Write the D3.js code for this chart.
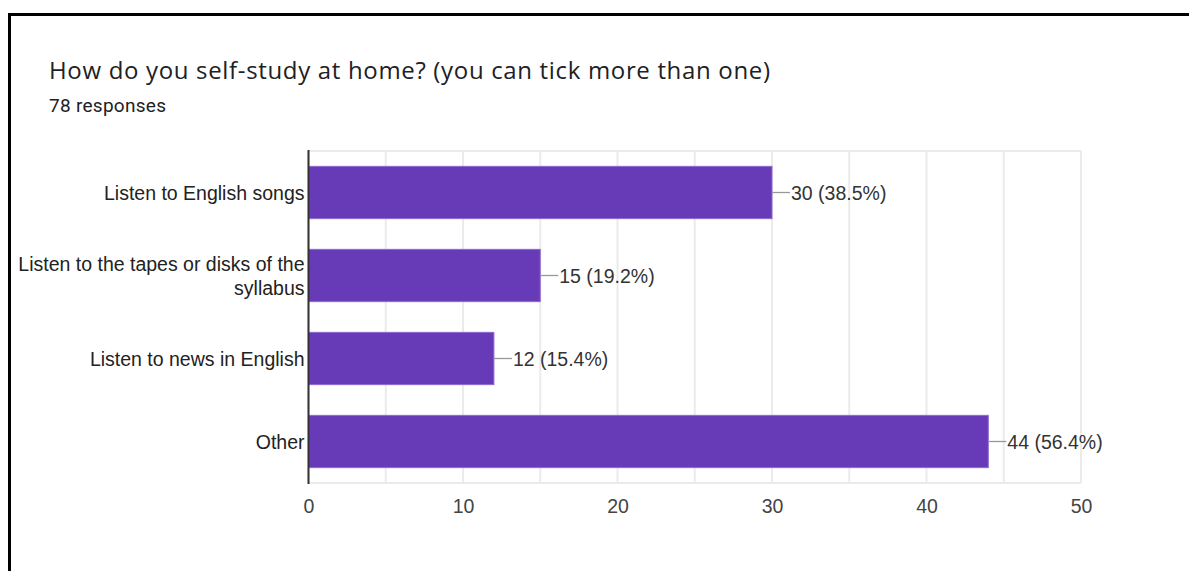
<!DOCTYPE html>
<html>
<head>
<meta charset="utf-8">
<script src="https://cdn.jsdelivr.net/npm/d3@7"></script>
<style>
  html, body { margin: 0; padding: 0; background: #fff; }
  svg { display: block; }
</style>
</head>
<body>
<svg id="chart" width="1189" height="571"></svg>
<script>
// Survey question and answers
const title = "How do you self-study at home? (you can tick more than one)";
const subtitle = "78 responses";
const categories = [
  ["Listen to English songs"],
  ["Listen to the tapes or disks of the", "syllabus"],
  ["Listen to news in English"],
  ["Other"]
];
const counts = [30, 15, 12, 44];
const percents = ["38.5%", "19.2%", "15.4%", "56.4%"];
const tickValues = [0, 10, 20, 30, 40, 50];
const gridValues = [0, 5, 10, 15, 20, 25, 30, 35, 40, 45, 50];

const svg = d3.select("#chart");

// Card frame
svg.append("path")
  .attr("d", "M9.5,571 V14.5 H1189")
  .attr("fill", "none")
  .attr("stroke", "#000")
  .attr("stroke-width", 3);

// Fit a text element to a given width through letter spacing
function fitWidth(sel, width) {
  const node = sel.node();
  const len = node.getComputedTextLength();
  const n = node.textContent.length;
  if (n > 1) sel.attr("letter-spacing", (width - len) / (n - 1));
}

const titleText = svg.append("text")
  .attr("x", 49).attr("y", 79)
  .attr("font-family", "'Open Sans', Roboto, sans-serif")
  .attr("font-size", 24)
  .attr("fill", "#202124")
  .text(title);
fitWidth(titleText, 721);

const subText = svg.append("text")
  .attr("x", 49).attr("y", 112)
  .attr("font-family", "Roboto, 'Open Sans', sans-serif")
  .attr("font-size", 19)
  .attr("fill", "#202124")
  .text(subtitle);
fitWidth(subText, 117);

const plot = { left: 308.5, right: 1081, top: 151, bottom: 483 };

const x = d3.scaleLinear().domain([0, 50]).range([plot.left, plot.right]);
const y = d3.scaleBand()
  .domain(d3.range(categories.length))
  .range([plot.top, plot.bottom])
  .paddingInner(0.37)
  .paddingOuter(0.185);

const font = "'Liberation Sans', Arial, sans-serif";
const fs = 19.5;

// Vertical grid lines every 5 units
svg.append("g")
  .selectAll("line")
  .data(gridValues)
  .join("line")
  .attr("x1", d => x(d)).attr("x2", d => x(d))
  .attr("y1", plot.top).attr("y2", plot.bottom)
  .attr("stroke", "#ebebeb")
  .attr("stroke-width", 2);

// Horizontal boundary lines
svg.append("g")
  .selectAll("line")
  .data([plot.top, plot.bottom])
  .join("line")
  .attr("x1", plot.left).attr("x2", plot.right)
  .attr("y1", d => d).attr("y2", d => d)
  .attr("stroke", "#ebebeb")
  .attr("stroke-width", 2);

// Bars
svg.append("g")
  .selectAll("rect")
  .data(counts)
  .join("rect")
  .attr("x", x(0))
  .attr("y", (d, i) => y(i))
  .attr("width", d => x(d) - x(0))
  .attr("height", y.bandwidth())
  .attr("fill", "#673ab7")
  .attr("stroke", "#8f6ad0")
  .attr("stroke-width", 1);

// Value annotations with leader lines
const ann = svg.append("g");
counts.forEach((d, i) => {
  const cy = y(i) + y.bandwidth() / 2;
  ann.append("line")
    .attr("x1", x(d)).attr("x2", x(d) + 18)
    .attr("y1", cy).attr("y2", cy)
    .attr("stroke", "#999")
    .attr("stroke-width", 1.3);
  ann.append("text")
    .attr("x", x(d) + 19).attr("y", cy)
    .attr("dy", "0.36em")
    .attr("font-family", font)
    .attr("font-size", fs)
    .attr("fill", "#333")
    .text(`${d} (${percents[i]})`);
});

// Category labels, right aligned against the axis
const labels = svg.append("g");
categories.forEach((lines, i) => {
  const cy = y(i) + y.bandwidth() / 2;
  const lh = 24;
  const start = cy - (lines.length - 1) * lh / 2;
  const t = labels.append("text")
    .attr("text-anchor", "end")
    .attr("font-family", font)
    .attr("font-size", fs)
    .attr("fill", "#222");
  lines.forEach((ln, j) => {
    t.append("tspan")
      .attr("x", plot.left - 4)
      .attr("y", start + j * lh)
      .attr("dy", "0.36em")
      .text(ln);
  });
});

// Value axis
const xAxis = d3.axisBottom(x).tickValues(tickValues).tickSize(0).tickPadding(16);
const gx = svg.append("g")
  .attr("transform", `translate(0,${plot.bottom})`)
  .call(xAxis);
gx.select(".domain").remove();
gx.selectAll("text")
  .attr("font-family", font)
  .attr("font-size", fs)
  .attr("fill", "#444");

// Category axis line
svg.append("line")
  .attr("x1", plot.left).attr("x2", plot.left)
  .attr("y1", plot.top - 1).attr("y2", plot.bottom + 1)
  .attr("stroke", "#333")
  .attr("stroke-width", 2);
</script>
</body>
</html>
